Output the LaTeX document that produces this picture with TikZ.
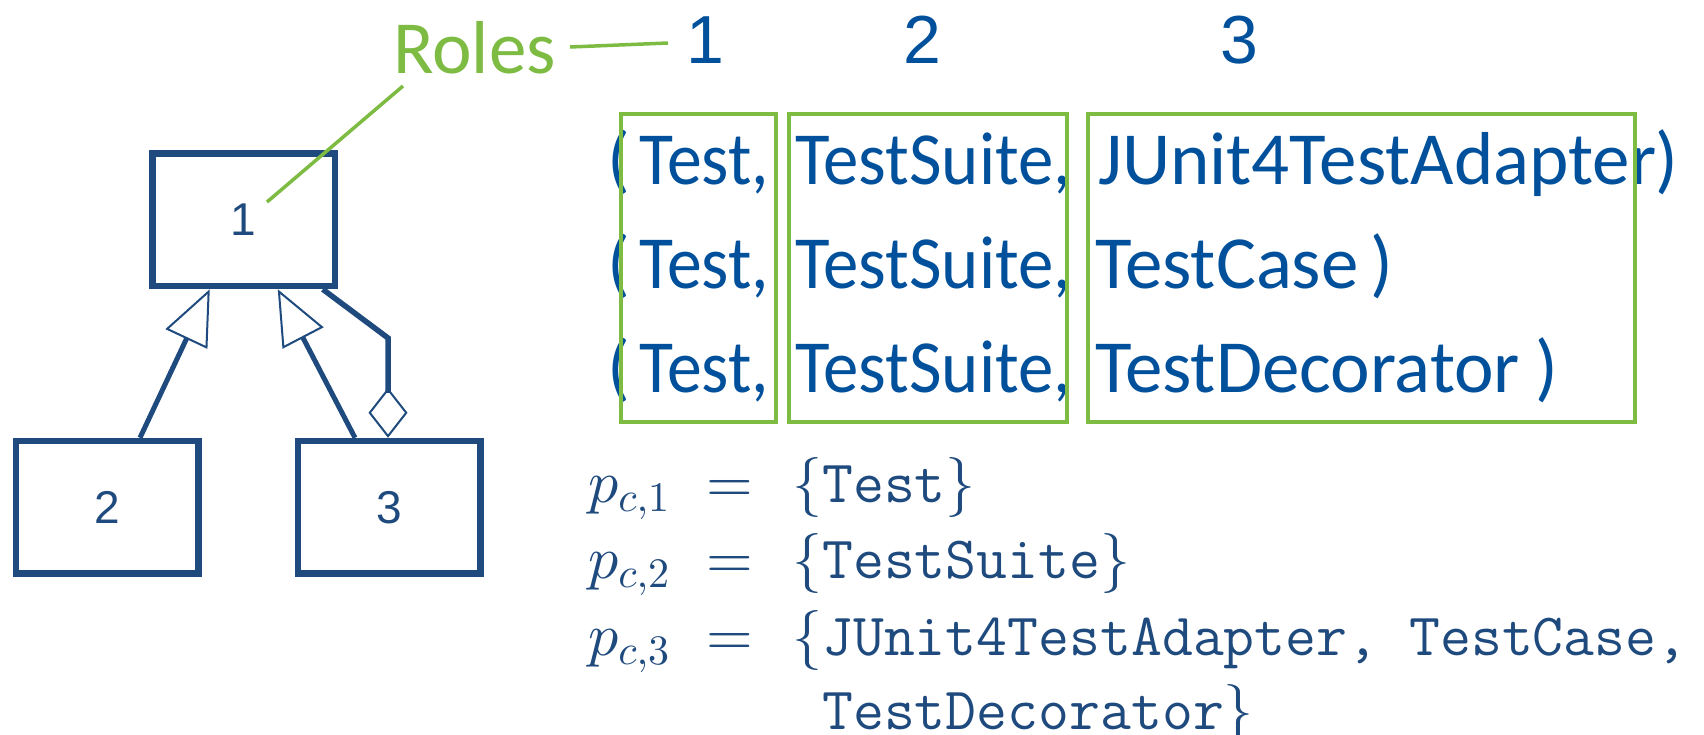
\documentclass[tikz,border=0pt]{standalone}
\usepackage[no-math]{fontspec}
\newfontfamily\gill{Carlito}
\newfontfamily\arialf{Liberation Sans}
\usetikzlibrary{arrows.meta}
\DeclareFontFamily{OML}{cmmx}{\skewchar\font127}
\DeclareFontShape{OML}{cmmx}{m}{it}{<->cmmi10}{}
\DeclareSymbolFont{letters}{OML}{cmmx}{m}{it}
\DeclareFontFamily{OMS}{cmsx}{\skewchar\font48}
\DeclareFontShape{OMS}{cmsx}{m}{n}{<->cmsy10}{}
\DeclareSymbolFont{symbols}{OMS}{cmsx}{m}{n}
\DeclareFontFamily{OT1}{cmrx}{}
\DeclareFontShape{OT1}{cmrx}{m}{n}{<->cmr10}{}
\DeclareSymbolFont{operators}{OT1}{cmrx}{m}{n}
\definecolor{navy}{RGB}{31,74,126}
\definecolor{tblue}{RGB}{0,80,155}
\definecolor{lgreen}{RGB}{125,187,66}
\begin{document}
\begin{tikzpicture}[x=1pt,y=-1pt,
  umlbox/.style={draw=navy, line width=6.5pt, minimum width=182.5pt, minimum height=132.5pt, inner sep=0pt, text=navy, font=\arialf\fontsize{46}{50}\selectfont},
  inh/.style={draw=navy, line width=5pt, line cap=butt, -{Triangle[open, length=55pt, width=46pt, line width=2pt]}},
  agg/.style={draw=navy, line width=5.5pt, line join=miter, {Diamond[open, length=50pt, width=39pt, line width=2pt]}-},
  colbox/.style={draw=lgreen, line width=4.5pt, inner sep=0pt, minimum height=308pt},
  roleline/.style={draw=lgreen, line width=3.5pt},
  tup/.style={anchor=base west, inner sep=0pt, text=tblue, font=\gill\fontsize{75}{80}\selectfont},
  collab/.style={anchor=base, inner sep=0pt, text=tblue, font=\arialf\fontsize{68}{72}\selectfont},
  mtxt/.style={anchor=base west, inner sep=0pt, text=navy, font=\fontsize{60}{70}\selectfont}
]
\path[use as bounding box] (0,0) rectangle (1704,734);

% UML part
\node[umlbox] (b1) at (243.75,219.75) {1};
\node[umlbox] (b2) at (107,507.25) {2};
\node[umlbox] (b3) at (389,507.25) {3};
\draw[inh] ([xshift=33pt]b2.north) -- ([xshift=-34pt]b1.south);
\draw[inh] ([xshift=-34pt]b3.north) -- ([xshift=34pt]b1.south);
\coordinate (aggbend) at (388,338);
\draw[agg] ([xshift=-1pt]b3.north) -- (aggbend) -- ([xshift=79pt]b1.south);

% Roles
\node[anchor=base west, inner sep=0pt, text=lgreen, font=\gill\fontsize{75}{80}\selectfont] (roles) at (393,73) {Roles};
\node[collab] (c1) at (705,63) {1};
\node[collab] (c2) at (922,63) {2};
\node[collab] (c3) at (1239,63) {3};
\coordinate (rolesA) at (403,86);
\coordinate (roleT) at (267,202);
\coordinate (rolesB) at (570,47);
\coordinate (roleC) at (668,43);
\draw[roleline] (rolesA) -- (roleT);
\draw[roleline] (rolesB) -- (roleC);

% tuples
\foreach \y/\n in {184/1,288/2,392/3}{
  \node[tup] (lp\n) at (607,\y) {(};
  \node[tup] (t\n) at (639,\y) {\scalebox{0.93}[1]{Test,}};
  \node[tup] (s\n) at (795,\y) {\scalebox{0.945}[1]{TestSuite,}};
}
\node[tup] (x1) at (1098,184) {JUnit4TestAdapter};
\node[tup] (rp1) at (1655,184) {)};
\node[tup] (x2) at (1095,288) {TestCase};
\node[tup] (rp2) at (1370,288) {)};
\node[tup] (x3) at (1095,392) {TestDecorator};
\node[tup] (rp3) at (1535,392) {)};

% column boxes
\node[colbox, minimum width=155pt] (colA) at (698.5,268) {};
\node[colbox, minimum width=278pt] (colB) at (928,268) {};
\node[colbox, minimum width=547pt] (colC) at (1361.5,268) {};

% sets
\node[mtxt] (p1) at (588,502) {$p_{c,1}$};
\node[mtxt, anchor=base] (e1) at (730,502) {$=$};
\node[mtxt] (v1) at (792,502) {$\{$\texttt{Test}$\}$};
\node[mtxt] (p2) at (588,578) {$p_{c,2}$};
\node[mtxt, anchor=base] (e2) at (730,578) {$=$};
\node[mtxt] (v2) at (792,578) {$\{$\texttt{TestSuite}$\}$};
\node[mtxt] (p3) at (588,655) {$p_{c,3}$};
\node[mtxt, anchor=base] (e3) at (730,655) {$=$};
\node[mtxt] (v3) at (792,655) {$\{$\texttt{JUnit4TestAdapter, TestCase,}};
\node[mtxt] (v4) at (792,729) {$\phantom{\{}$\texttt{TestDecorator}$\}$};
\end{tikzpicture}
\end{document}
